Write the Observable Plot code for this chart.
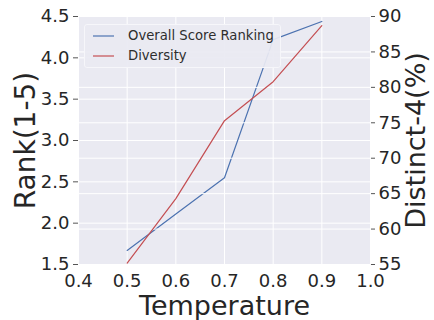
<!DOCTYPE html>
<html><head><meta charset="utf-8">
<script src="https://cdn.jsdelivr.net/npm/d3@7"></script>
<script src="https://cdn.jsdelivr.net/npm/@observablehq/plot@0.6"></script>
<style>
body{margin:0;background:#fff;}
#wrap{position:relative;width:434px;height:320px;font-family:"DejaVu Sans";}
#wrap > svg{position:absolute;left:0;top:0;}
#legend{position:absolute;left:84px;top:24px;width:197px;height:44px;background:rgba(234,234,242,0.93);border:1px solid #F6F6FA;border-radius:3px;box-sizing:border-box;}
.row{position:absolute;left:0;height:20px;width:100%;}
.sw{position:absolute;left:8px;top:0;width:21px;height:20px;}
.lab{position:absolute;left:43px;top:0;line-height:20px;font-size:13.2px;color:#2e2e2e;white-space:nowrap;}
</style></head><body>
<div id="wrap"></div>
<script>
const temperatures = [0.5, 0.6, 0.7, 0.8, 0.9];
const rankScores = [1.67, 2.11, 2.55, 4.22, 4.44];
const distinct4 = [55.2, 64.3, 75.3, 80.8, 88.7];
const xTicks = [0.4, 0.5, 0.6, 0.7, 0.8, 0.9, 1.0];
const rankTicks = [1.5, 2.0, 2.5, 3.0, 3.5, 4.0, 4.5];
const distinctTicks = [55, 60, 65, 70, 75, 80, 85, 90];
const seriesNames = ["Overall Score Ranking", "Diversity"];
const seriesColors = ["#4C72B0", "#C44E52"];

const rankRows = temperatures.map((t, i) => ({t, v: rankScores[i]}));
const distRows = temperatures.map((t, i) => ({t, v: distinct4[i]}));

const common = {
  width: 434, height: 320,
  marginLeft: 78, marginRight: 64, marginTop: 16, marginBottom: 56,
  style: {fontFamily: "DejaVu Sans", background: "transparent", overflow: "visible"}
};

const chart1 = Plot.plot({
  ...common,
  x: {domain: [0.4, 1.0]},
  y: {domain: [1.5, 4.5]},
  marks: [
    Plot.frame({fill: "#EAEAF2", stroke: "none"}),
    Plot.gridX(xTicks, {stroke: "#fff", strokeOpacity: 1, strokeWidth: 1}),
    Plot.gridY(rankTicks, {stroke: "#fff", strokeOpacity: 1, strokeWidth: 1}),
    Plot.axisX(xTicks, {tickSize: 0, tickPadding: 10, fontSize: 18, tickFormat: d => d.toFixed(1), label: null, fill: "#262626"}),
    Plot.axisY(rankTicks, {anchor: "left", tickSize: 5, tickPadding: 4, fontSize: 18, tickFormat: d => d.toFixed(1), label: null, fill: "#262626", stroke: "#555"}),
    Plot.line(rankRows, {x: "t", y: "v", stroke: seriesColors[0], strokeWidth: 1.2}),
    Plot.text(["Temperature"], {frameAnchor: "bottom", dy: 42, fontSize: 27, fill: "#262626", textAnchor: "middle", lineAnchor: "middle"}),
    Plot.text(["Rank(1-5)"], {frameAnchor: "left", dx: -52, rotate: -90, fontSize: 28, fill: "#262626", textAnchor: "middle", lineAnchor: "middle"})
  ]
});

const chart2 = Plot.plot({
  ...common,
  x: {domain: [0.4, 1.0], axis: null},
  y: {domain: [55, 90]},
  marks: [
    Plot.gridY(distinctTicks, {stroke: "#fff", strokeOpacity: 1, strokeWidth: 1}),
    Plot.axisY(distinctTicks, {anchor: "right", tickSize: 4, tickPadding: 4, fontSize: 18, tickFormat: d => String(d), label: null, fill: "#262626", stroke: "#555"}),
    Plot.line(distRows, {x: "t", y: "v", stroke: seriesColors[1], strokeWidth: 1.2}),
    Plot.text(["Distinct-4(%)"], {frameAnchor: "right", dx: 46, rotate: -90, fontSize: 27, fill: "#262626", textAnchor: "middle", lineAnchor: "middle"})
  ]
});

const wrap = document.getElementById("wrap");
wrap.appendChild(chart1);
wrap.appendChild(chart2);

const legend = document.createElement("div");
legend.id = "legend";
seriesNames.forEach((name, i) => {
  const row = document.createElement("div");
  row.className = "row";
  row.style.top = (i === 0 ? 1 : 21) + "px";
  const sw = document.createElementNS("http://www.w3.org/2000/svg", "svg");
  sw.setAttribute("class", "sw");
  sw.setAttribute("width", "21");
  sw.setAttribute("height", "20");
  const ln = document.createElementNS("http://www.w3.org/2000/svg", "line");
  ln.setAttribute("x1", "0"); ln.setAttribute("x2", "21");
  ln.setAttribute("y1", "10"); ln.setAttribute("y2", "10");
  ln.setAttribute("stroke", seriesColors[i]);
  ln.setAttribute("stroke-width", "1.2");
  sw.appendChild(ln);
  const lab = document.createElement("div");
  lab.className = "lab";
  lab.textContent = name;
  row.appendChild(sw);
  row.appendChild(lab);
  legend.appendChild(row);
});
wrap.appendChild(legend);
</script>
</body></html>
